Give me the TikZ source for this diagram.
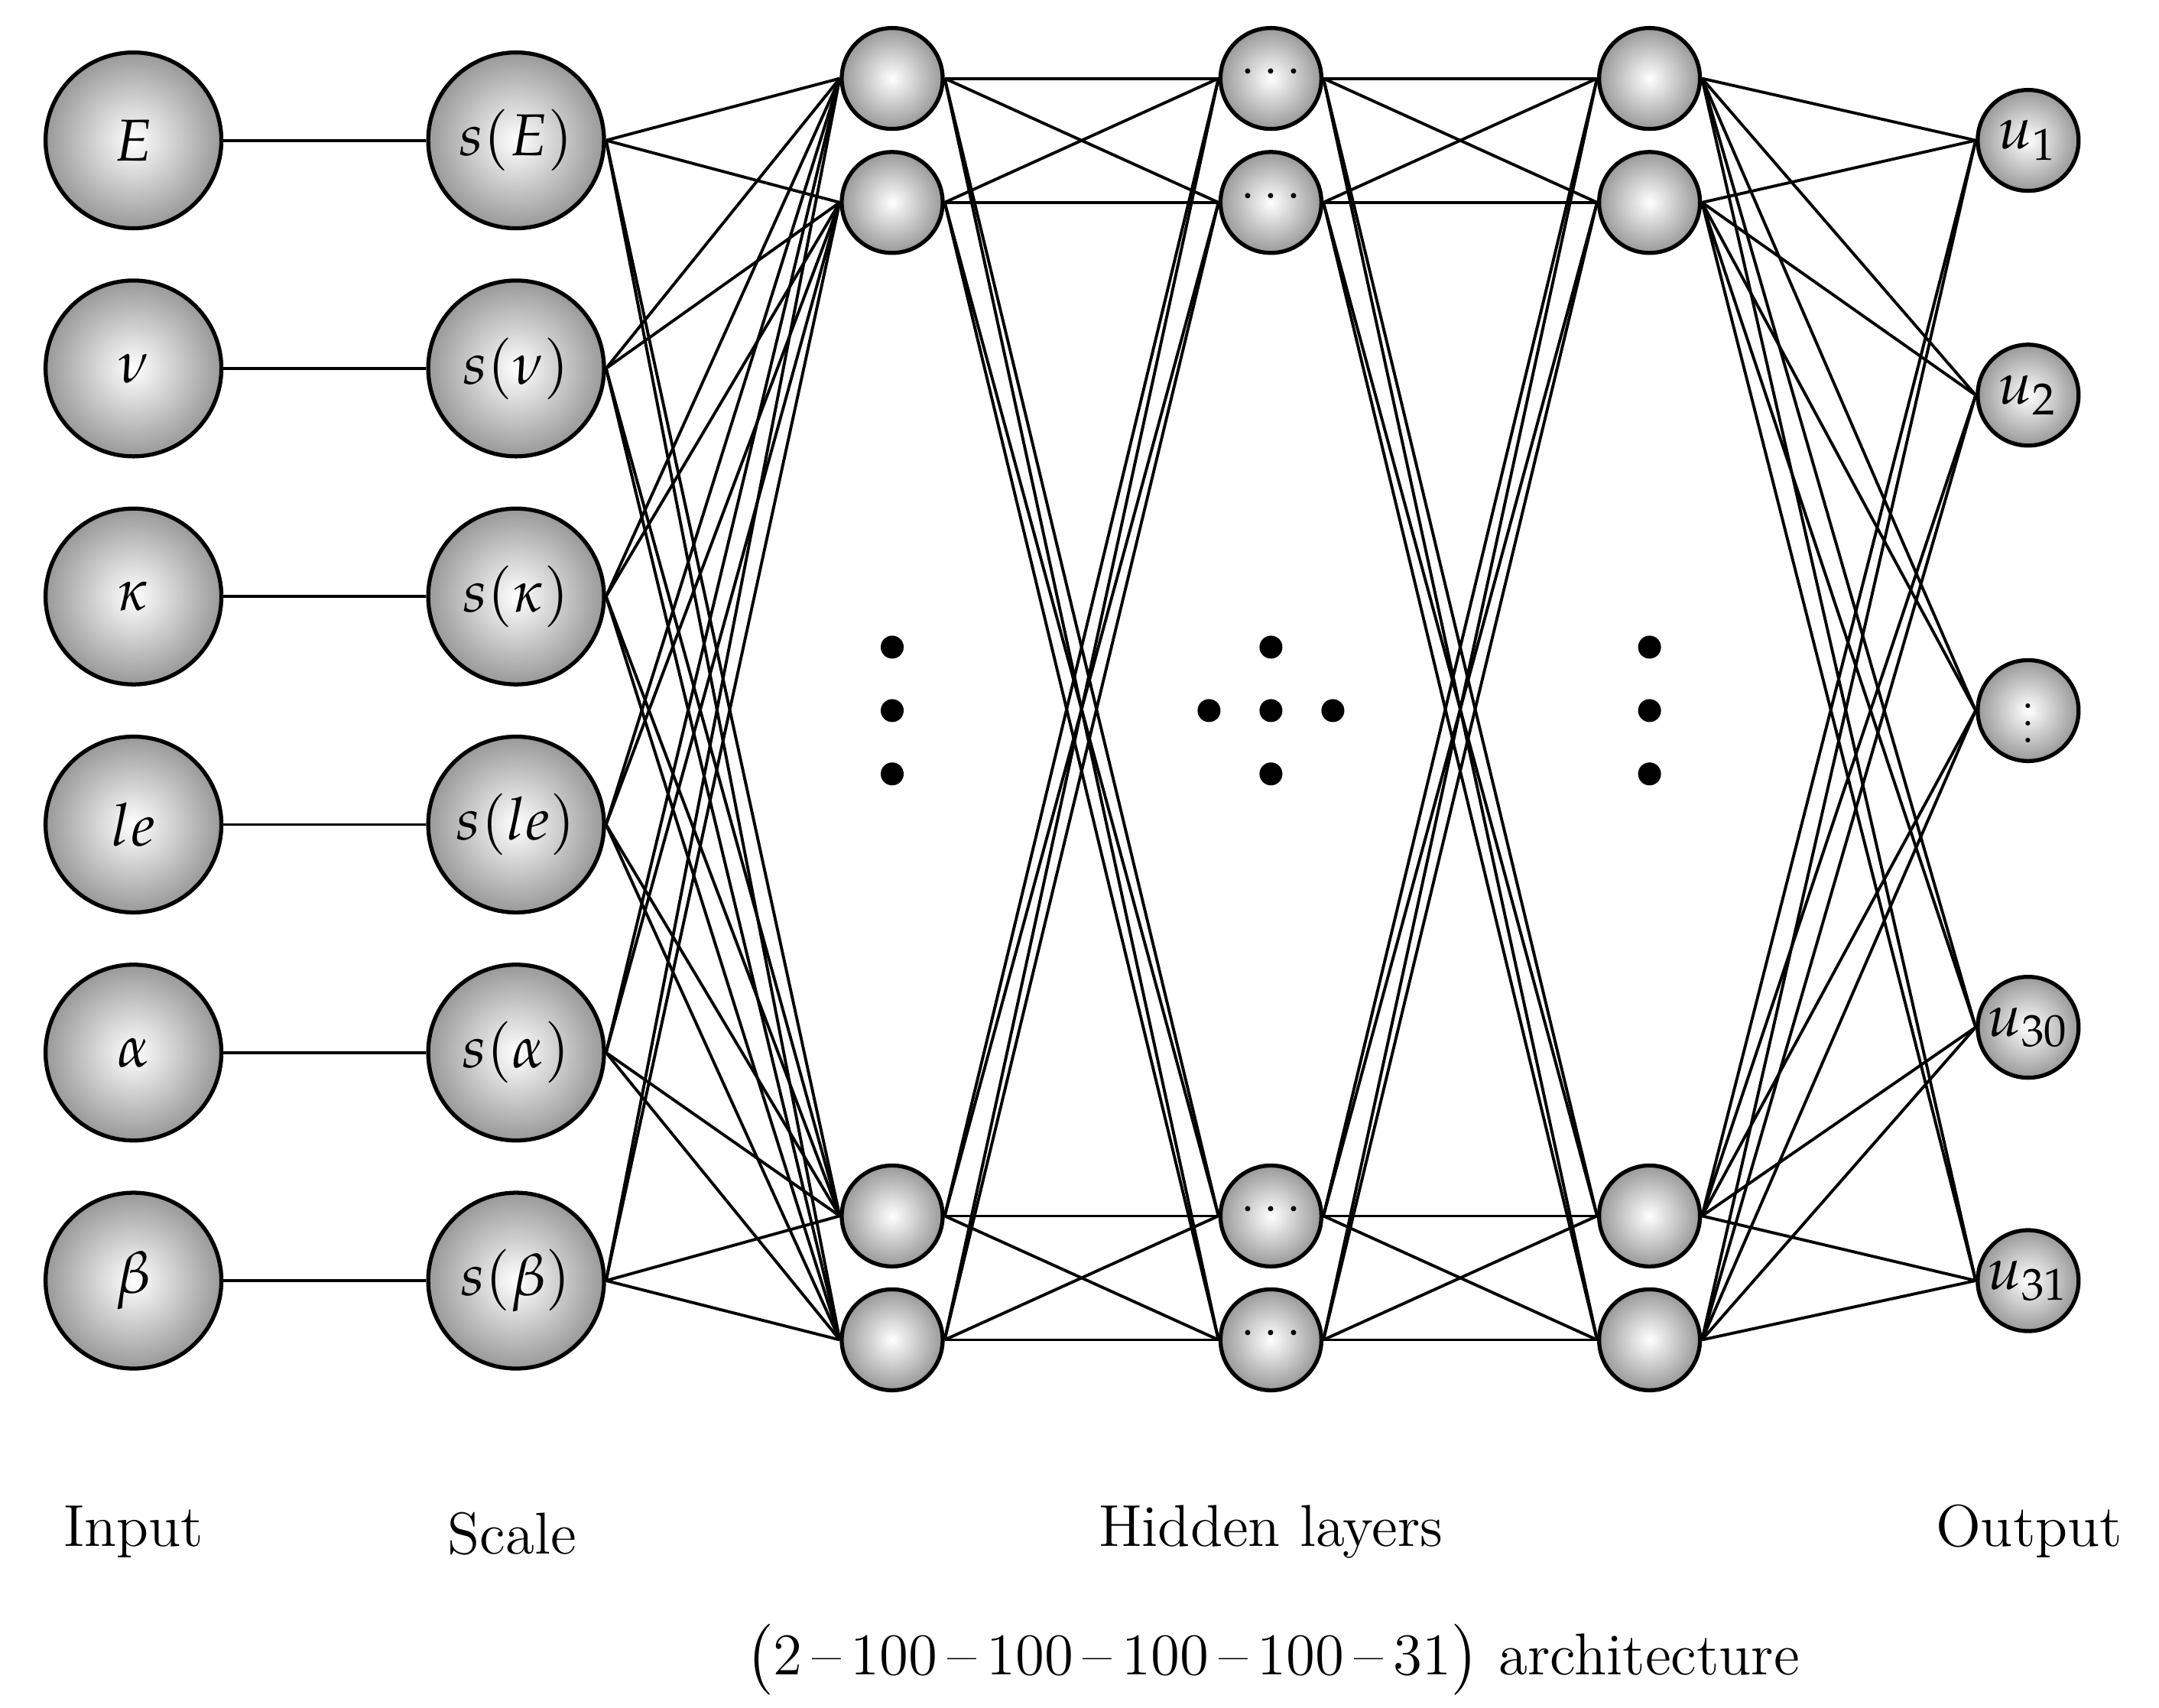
\documentclass[tikz,border=0pt]{standalone}
\usepackage{mathpazo}
\usepackage{tikz}
\usetikzlibrary{positioning, calc}
\tikzstyle{neuron} = [circle, draw=black, line width=0.75pt, inner color=white, outer color=gray!80, inner sep=0pt, text centered]
\tikzstyle{bignode} = [neuron, minimum size=1.15cm]
\tikzstyle{smallnode} = [neuron, minimum size=0.66cm]
\tikzstyle{link} = [line width=0.55pt]
\tikzstyle{caption} = [anchor=base, inner sep=0pt]
\newcommand{\smalldots}[1]{\scalebox{0.8}{$#1$}}

\begin{document}
\begin{tikzpicture}[font=\fontsize{11}{13}\selectfont]
    \useasboundingbox (0,0) rectangle (14.12,-11.165);
    % input and scale columns
    \foreach \lab [count=\i] in {E,\nu,\kappa,le,\alpha,\beta} {
        \node (In\i) [bignode] at (0.873,{-0.918-1.4914*(\i-1)}) {$\lab$};
        \node (Scale\i) [bignode, right = 1.326cm of In\i] {$s(\lab)$};
        \draw [link] (In\i) -- (Scale\i);
    }
    % hidden layers
    \foreach \y [count=\j] in {-0.513,-1.324,-7.952,-8.762} {
        \node (HidA\j) [smallnode] at (5.835,\y) {};
        \node (HidB\j) [smallnode] at (8.312,\y) {\raisebox{2pt}{\smalldots{\cdots}}};
        \node (HidC\j) [smallnode] at (10.788,\y) {};
    }
    % output
    \foreach \y/\lab [count=\k] in {-0.918/u_1,-2.584/u_2,-6.718/u_{30},-8.375/u_{31}} {
        \node (Out\k) [smallnode] at (13.264,\y) {$\lab$};
    }
    \node (OutDots) [smallnode] at (13.264,-4.647) {\smalldots{\vdots}};
    % connections
    \foreach \i in {1,...,6}
        \foreach \j in {1,...,4}
            \draw [link] (Scale\i.east) -- (HidA\j.west);
    \foreach \i in {1,...,4}
        \foreach \j in {1,...,4} {
            \draw [link] (HidA\i.east) -- (HidB\j.west);
            \draw [link] (HidB\i.east) -- (HidC\j.west);
        }
    \foreach \i in {1,...,4} {
        \foreach \k in {1,...,4}
            \draw [link] (HidC\i.east) -- (Out\k.west);
        \draw [link] (HidC\i.east) -- (OutDots.west);
    }
    % dots between the hidden neurons
    \foreach \x in {5.835,8.312,10.788}
        \foreach \y in {-4.232,-4.647,-5.061}
            \fill (\x,\y) circle (0.075);
    \fill (7.907,-4.647) circle (0.075);
    \fill (8.717,-4.647) circle (0.075);
    % captions
    \node (InputLab) [caption] at (0.873,-10.11) {Input};
    \node (ScaleLab) [caption] at (3.35,-10.16) {Scale};
    \node (HiddenLab) [caption] at (8.312,-10.11) {Hidden layers};
    \node (OutputLab) [caption] at (13.27,-10.11) {Output};
    \node (ArchLab) [caption] at (8.32,-10.95) {$\big($2\,--\,100\,--\,100\,--\,100\,--\,100\,--\,31$\big)$ architecture};
\end{tikzpicture}
\end{document}
